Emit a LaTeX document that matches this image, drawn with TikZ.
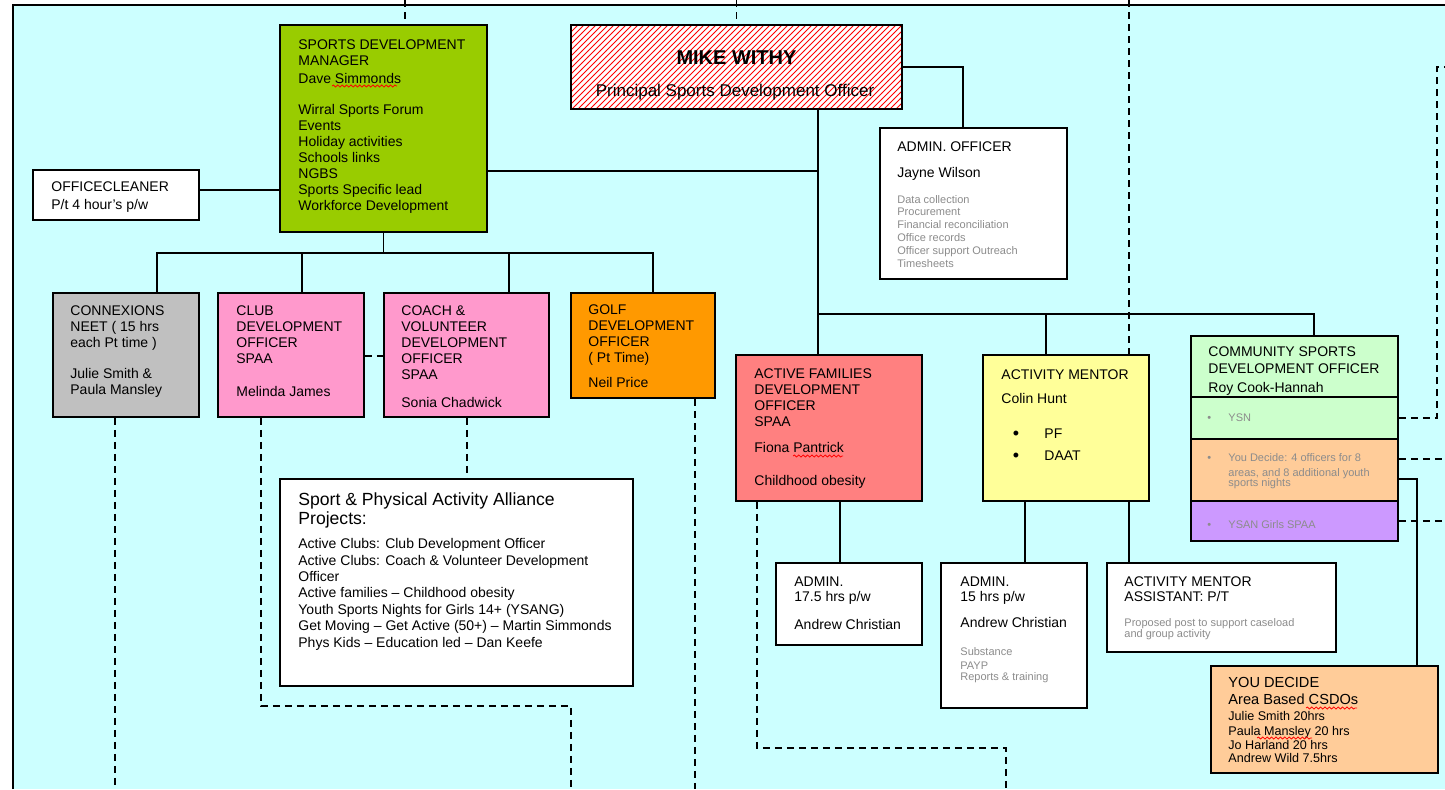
\documentclass[tikz,border=0pt]{standalone}
\usepackage{fontspec}
\setmainfont{Liberation Sans}
\usetikzlibrary{patterns,fit,decorations.pathmorphing}
\definecolor{bgc}{HTML}{CCFFFF}
\definecolor{sdmc}{HTML}{99CC00}
\definecolor{grayc}{HTML}{C0C0C0}
\definecolor{pinkc}{HTML}{FF99CC}
\definecolor{golfc}{HTML}{FF9900}
\definecolor{afc}{HTML}{FF8080}
\definecolor{amc}{HTML}{FFFF99}
\definecolor{csc}{HTML}{CCFFCC}
\definecolor{peachc}{HTML}{FFCC99}
\definecolor{lavc}{HTML}{CC99FF}
\begin{document}
\begin{tikzpicture}[x=0.5pt,y=-0.5pt,
  box/.style={draw=black, line width=0.9pt, inner sep=0pt},
  ln/.style={line width=0.9pt},
  dl/.style={line width=0.9pt, dash pattern=on 3.5pt off 2.5pt},
  txt/.style={inner sep=0pt, anchor=base west, align=left, font=\fontsize{7}{8}\selectfont},
  gtxt/.style={txt, text=black!45, font=\fontsize{5.5}{6.4}\selectfont},
  wavy/.style={red, line width=0.4pt, decorate, decoration={snake, amplitude=0.5pt, segment length=2.2pt}}]
\useasboundingbox (0,0) rectangle (1445,789);
\fill[bgc] (13,5) rectangle (1445,789);
\draw[ln] (13,789) -- (13,5) -- (1445,5);

% boxes
\node[box, fill=sdmc, fit={(280,25)(487,232)}] (sdm) {};
\node[box, fill=white, fit={(33,170)(199,220)}] (clean) {};
\node[box, preaction={fill=white}, pattern=north east lines, pattern color=red, fit={(571,25)(902,109)}] (mw) {};
\node[box, fill=white, fit={(880,128)(1067,279)}] (aoff) {};
\node[box, fill=grayc, fit={(53,293)(199,417)}] (conn) {};
\node[box, fill=pinkc, fit={(218,293)(364,417)}] (club) {};
\node[box, fill=pinkc, fit={(384,293)(549,417)}] (coach) {};
\node[box, fill=golfc, fit={(571,293)(715,398)}] (golf) {};
\node[box, fill=white, fit={(280,479)(633,686)}] (spaa) {};
\node[box, fill=afc, fit={(736,355)(922,501)}] (af) {};
\node[box, fill=white, fit={(776,563)(922,645)}] (adm1) {};
\node[box, fill=amc, fit={(983,355)(1149,501)}] (am) {};
\node[box, fill=white, fit={(941,563)(1087,708)}] (adm2) {};
\node[box, fill=white, fit={(1107,563)(1336,652)}] (ama) {};
\node[box, fill=csc, fit={(1191,336)(1398,397)}] (csdo) {};
\node[box, fill=csc, fit={(1191,397)(1398,439)}] (ysn) {};
\node[box, fill=peachc, fit={(1191,439)(1398,501)}] (yd) {};
\node[box, fill=lavc, fit={(1191,501)(1398,541)}] (ysan) {};
\node[box, fill=peachc, fit={(1211,666)(1438,773)}] (ydb) {};

% coordinates
\coordinate (bus) at (400,253);
\coordinate (bus2) at (1000,314);
\coordinate (top1) at (405,0);
\coordinate (top2) at (736.5,0);
\coordinate (top3) at (1129,0);
\coordinate (r1) at (1445,67);
\coordinate (r2) at (1445,459);
\coordinate (r3) at (1445,521);
\coordinate (b1) at (115,789);
\coordinate (b2) at (571,789);
\coordinate (b3) at (695,789);
\coordinate (b4) at (1006,789);

% solid connectors
\draw[ln] (conn.north -| 157,0) |- (bus) -| (golf.north -| 653,0);
\draw[ln] (sdm.south) -- (sdm.south |- bus);
\draw[ln] (club.north -| 302,0) -- (302,0 |- bus);
\draw[ln] (coach.north -| 509,0) -- (509,0 |- bus);
\draw[ln] (clean.east |- 0,190) -- (sdm.west |- 0,190);
\draw[ln] (sdm.east |- 0,171) -| (mw.south -| 818,0);
\draw[ln] (mw.south -| 818,0) -- (af.north -| 818,0);
\draw[ln] (mw.south -| 818,0) |- (bus2) -| (csdo.north -| 1314,0);
\draw[ln] (am.north -| 1046,0) -- (1046,0 |- bus2);
\draw[ln] (mw.east) -| (aoff.north -| 963,0);
\draw[ln] (yd.east |- 0,479) -| (ydb.north -| 1417,0);
\draw[ln] (af.south -| 840,0) -- (adm1.north -| 840,0);
\draw[ln] (am.south -| 1025,0) -- (adm2.north -| 1025,0);
\draw[ln] (am.south -| 1129,0) -- (ama.north -| 1129,0);

% dashed connectors
\draw[dl] (top1) -- (sdm.north -| top1);
\draw[dl] (top2) -- (mw.north);
\draw[dl] (top3) -- (am.north -| top3);
\draw[dl] (ysn.east) -| (1437,67) -- (r1);
\draw[dl] (yd.east |- r2) -- (r2);
\draw[dl] (ysan.east) -- (r3);
\draw[dl] (conn.south -| b1) -- (b1);
\draw[dl] (club.south -| 261,0) |- (571,706) -- (b2);
\draw[dl] (club.east |- 0,356) -- (coach.west |- 0,356);
\draw[dl] (coach.south -| 467,0) -- (spaa.north -| 467,0);
\draw[dl] (golf.south -| b3) -- (b3);
\draw[dl] (af.south -| 757,0) |- (1006,748) -- (b4);

% texts (anchored at the baseline of the last line)
\node[txt] (tsdm) at (298,210) {SPORTS DEVELOPMENT\\MANAGER\\[1pt]Dave Simmonds\\[7.5pt]Wirral Sports Forum\\Events\\Holiday activities\\Schools links\\NGBS\\Sports Specific lead\\Workforce Development};
\node[txt] (tclean) at (51,209) {OFFICECLEANER\\[1pt]P/t 4 hour's p/w};
\node[inner sep=0pt, anchor=base, font=\bfseries\fontsize{10}{12}\selectfont] (tmw1) at (736.5,64) {MIKE WITHY};
\node[inner sep=0pt, anchor=base, font=\fontsize{8.5}{10}\selectfont] (tmw2) at (735,96) {Principal Sports Development Officer};
\node[txt] (taoff) at (897,177) {ADMIN. OFFICER\\[5pt]Jayne Wilson};
\node[gtxt] (taoff2) at (897,267) {Data collection\\Procurement\\Financial reconciliation\\Office records\\Officer support Outreach\\Timesheets};
\node[txt] (tconn) at (70,394) {CONNEXIONS\\NEET ( 15 hrs\\each Pt time )\\[7.5pt]Julie Smith \&\\Paula Mansley};
\node[txt] (tclub) at (236,396) {CLUB\\DEVELOPMENT\\OFFICER\\SPAA\\[8.5pt]Melinda James};
\node[txt] (tcoach) at (401,407) {COACH \&\\VOLUNTEER\\DEVELOPMENT\\OFFICER\\SPAA\\[6pt]Sonia Chadwick};
\node[txt] (tgolf) at (588,387) {GOLF\\DEVELOPMENT\\OFFICER\\( Pt Time)\\[4.5pt]Neil Price};
\node[txt, font=\fontsize{8.8}{9.5}\selectfont] (tspaa1) at (298,524) {Sport \& Physical Activity Alliance\\Projects:};
\node[txt, font=\fontsize{7}{8.2}\selectfont] (tspaa2) at (298,647) {Active Clubs: Club Development Officer\\Active Clubs: Coach \& Volunteer Development\\Officer\\Active families – Childhood obesity\\Youth Sports Nights for Girls 14+ (YSANG)\\Get Moving – Get Active (50+) – Martin Simmonds\\Phys Kids – Education led – Dan Keefe};
\node[txt] (taf) at (754,485) {ACTIVE FAMILIES\\DEVELOPMENT\\OFFICER\\SPAA\\[5pt]Fiona Pantrick\\[8.5pt]Childhood obesity};
\node[txt] (tam) at (1001,403) {ACTIVITY MENTOR\\[4pt]Colin Hunt};
\node[inner sep=0pt, anchor=base, font=\fontsize{9}{9}\selectfont] (bul1) at (1016,439) {•};
\node[inner sep=0pt, anchor=base, font=\fontsize{9}{9}\selectfont] (bul2) at (1016,461) {•};
\node[txt] (tam2) at (1044,460) {PF\\[3pt]DAAT};
\node[txt] (tadm1) at (794,629) {ADMIN.\\[-0.5pt]17.5 hrs p/w\\[6pt]Andrew Christian};
\node[txt] (tadm2) at (960,627) {ADMIN.\\[-0.5pt]15 hrs p/w\\[5pt]Andrew Christian};
\node[gtxt] (tadm2b) at (960,680) {Substance\\[0.6pt]PAYP\\[-0.9pt]Reports \& training};
\node[txt] (tama) at (1124,601) {ACTIVITY MENTOR\\[-0.5pt]ASSISTANT: P/T};
\node[gtxt] (tama2) at (1124,637) {Proposed post to support caseload\\[-0.9pt]and group activity};
\node[txt] (tcsdo) at (1208,392) {COMMUNITY SPORTS\\[0.5pt]DEVELOPMENT OFFICER\\[1.5pt]Roy Cook-Hannah};
\node[gtxt] (bysn) at (1207,421) {•};
\node[gtxt] (tysn) at (1228,421) {YSN};
\node[gtxt] (byd) at (1207,461) {•};
\node[gtxt] (tyd) at (1228,486) {You Decide: 4 officers for 8\\[1.1pt]areas, and 8 additional youth\\[-1.4pt]sports nights};
\node[gtxt] (bysan) at (1207,528) {•};
\node[gtxt] (tysan) at (1228,528) {YSAN Girls SPAA};
\node[txt, font=\fontsize{7.3}{8.5}\selectfont] (tydb1) at (1228,704) {YOU DECIDE\\Area Based CSDOs};
\node[txt, font=\fontsize{6.3}{7}\selectfont] (tydb2) at (1228,762) {Julie Smith 20hrs\\[0.5pt]Paula Mansley 20 hrs\\Jo Harland 20 hrs\\[-0.5pt]Andrew Wild 7.5hrs};

% spelling underlines
\draw[wavy] (332,86) -- (397,86);
\draw[wavy] (793,456) -- (843,456);
\draw[wavy] (1306,708) -- (1357,708);
\draw[wavy] (1257,738) -- (1312,738);
\end{tikzpicture}
\end{document}
